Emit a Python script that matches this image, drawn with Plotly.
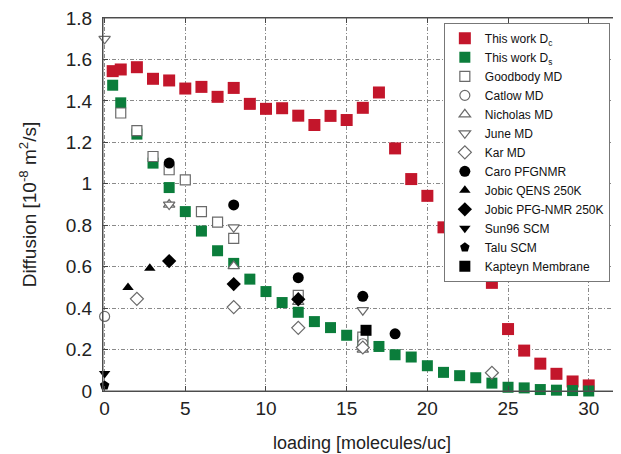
import plotly.graph_objects as go

# ---- data ----
loading_dc = [0.5, 1, 2, 3, 4, 5, 6, 7, 8, 9, 10, 11, 12, 13, 14, 15, 16, 17, 18, 19, 20,
              21, 22, 23, 24, 25, 26, 27, 28, 29, 30]
dc_values = [1.544, 1.552, 1.563, 1.507, 1.499, 1.460, 1.468, 1.420, 1.463, 1.386, 1.362,
             1.365, 1.329, 1.284, 1.328, 1.308, 1.367, 1.441, 1.171, 1.023, 0.942,
             0.790, 0.716, 0.790, 0.522, 0.299, 0.195, 0.132, 0.083, 0.046, 0.027]

loading_ds = [0.5, 1, 2, 3, 4, 5, 6, 7, 8, 9, 10, 11, 12, 13, 14, 15, 16, 17, 18, 19, 20,
              21, 22, 23, 24, 25, 26, 27, 28, 29, 30]
ds_values = [1.476, 1.391, 1.24, 1.10, 0.982, 0.866, 0.772, 0.677, 0.616, 0.540, 0.480,
             0.427, 0.380, 0.335, 0.306, 0.269, 0.24, 0.215, 0.175, 0.164, 0.122,
             0.090, 0.074, 0.064, 0.038, 0.018, 0.015, 0.007, 0.004, 0.002, 0.0]

goodbody_x = [1, 2, 3, 4, 5, 6, 7, 8, 12, 16]
goodbody_y = [1.342, 1.257, 1.132, 1.068, 1.019, 0.866, 0.815, 0.737, 0.462, 0.26]

catlow_x = [0, 16]
catlow_y = [0.36, 0.228]

nicholas_x = [4, 8, 12, 16]
nicholas_y = [0.90, 0.603, 0.43, 0.20]

june_x = [0, 4, 8, 16]
june_y = [1.70, 0.90, 0.79, 0.39]

kar_x = [2, 8, 12, 16, 24]
kar_y = [0.445, 0.405, 0.305, 0.21, 0.088]

caro_x = [4, 8, 12, 16, 18]
caro_y = [1.10, 0.898, 0.547, 0.457, 0.276]

jobic_qens_x = [1.45, 2.8]
jobic_qens_y = [0.50, 0.592]

jobic_pfg_x = [4, 8, 12]
jobic_pfg_y = [0.627, 0.516, 0.443]

sun_x = [0]
sun_y = [0.085]

talu_x = [0]
talu_y = [0.027]

kapteyn_x = [16.2]
kapteyn_y = [0.293]

x_ticks = [0, 5, 10, 15, 20, 25, 30]
y_ticks = [0, 0.2, 0.4, 0.6, 0.8, 1.0, 1.2, 1.4, 1.6, 1.8]
y_ticklabels = ["0", "0.2", "0.4", "0.6", "0.8", "1", "1.2", "1.4", "1.6", "1.8"]

# ---- styling ----
RED = "#C3162B"
GREEN = "#0B7D3B"
GRAY = "#6a6a6a"
FONT = "Liberation Sans, Arial, sans-serif"

fig = go.Figure()

def add(name, x, y, symbol, color, size, line_color=None, line_width=0):
    fig.add_trace(go.Scatter(
        x=x, y=y, mode="markers", name=name, cliponaxis=False,
        marker=dict(symbol=symbol, color=color, size=size,
                    line=dict(color=line_color or color, width=line_width)),
    ))

add("This work D<sub>c</sub>", loading_dc, dc_values, "square", RED, 12)
add("This work D<sub>s</sub>", loading_ds, ds_values, "square", GREEN, 11)
add("Goodbody MD", goodbody_x, goodbody_y, "square", "white", 10, GRAY, 1.2)
add("Catlow MD", catlow_x, catlow_y, "circle", "white", 10, GRAY, 1.2)
add("Nicholas MD", nicholas_x, nicholas_y, "triangle-up", "white", 10, GRAY, 1.2)
add("June MD", june_x, june_y, "triangle-down", "white", 10, GRAY, 1.2)
add("Kar MD", kar_x, kar_y, "diamond", "white", 10, GRAY, 1.2)
add("Caro PFGNMR", caro_x, caro_y, "circle", "black", 11)
add("Jobic QENS 250K", jobic_qens_x, jobic_qens_y, "triangle-up", "black", 10)
add("Jobic PFG-NMR 250K", jobic_pfg_x, jobic_pfg_y, "diamond", "black", 11)
add("Sun96 SCM", sun_x, sun_y, "triangle-down", "black", 10)
add("Talu SCM", talu_x, talu_y, "pentagon", "black", 10)
add("Kapteyn Membrane", kapteyn_x, kapteyn_y, "square", "black", 11)

axis_common = dict(
    showline=True, linecolor="#444", linewidth=1, mirror="ticks",
    ticks="inside", ticklen=5, tickcolor="#444",
    showgrid=True, gridcolor="#8a8a8a", gridwidth=1, griddash="4px,2px,1px,2px",
    zeroline=False, automargin=False, ticklabeloverflow="allow",
    tickfont=dict(family=FONT, size=19, color="#222"),
)

fig.update_xaxes(
    range=[-0.1, 32.0], tickmode="array", tickvals=x_ticks,
    title=dict(text="loading [molecules/uc]", standoff=18,
               font=dict(family=FONT, size=18, color="#222")),
    **axis_common,
)
fig.update_yaxes(
    range=[0, 1.8005], tickmode="array", tickvals=y_ticks, ticktext=y_ticklabels,
    ticklabelstandoff=6,
    title=dict(text="Diffusion [10<sup>-8</sup> m<sup>2</sup>/s]", standoff=24,
               font=dict(family=FONT, size=19, color="#222")),
    **axis_common,
)

# plot frame
fig.add_shape(type="rect", xref="x domain", yref="y domain", x0=0, x1=1, y0=0, y1=1,
              line=dict(color="#555", width=1), fillcolor="rgba(0,0,0,0)", layer="above")

# page body has an 8px default margin, so the figure is sized to fit the window
fig.update_layout(
    width=613, height=446,
    margin=dict(l=95, r=0, t=10, b=63),
    plot_bgcolor="white", paper_bgcolor="white",
    font=dict(family=FONT, color="#111"),
    legend=dict(
        x=0.658, y=0.987, xanchor="left", yanchor="top",
        bgcolor="white", bordercolor="#777", borderwidth=1,
        font=dict(size=12, color="#111"),
        itemwidth=30, tracegroupgap=0,
    ),
)

fig.write_html("out.html")
